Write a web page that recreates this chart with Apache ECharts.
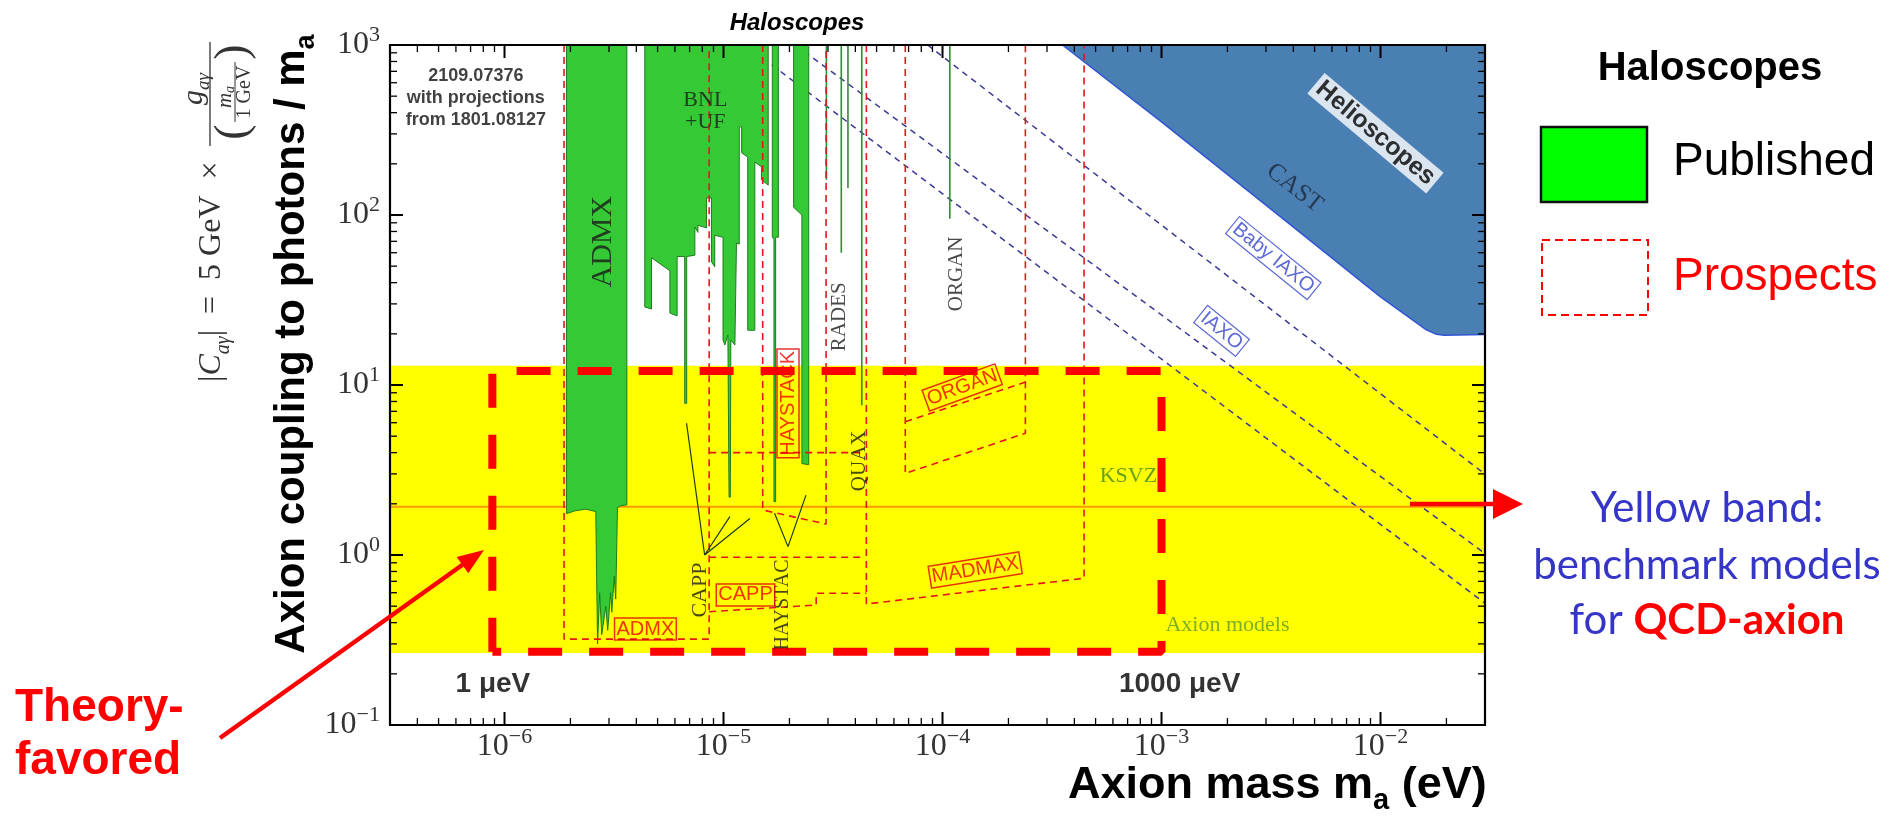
<!DOCTYPE html>
<html><head><meta charset="utf-8">
<script src="https://cdn.jsdelivr.net/npm/echarts@6/dist/echarts.min.js"></script>
<style>html,body{margin:0;padding:0;background:#fff}#c{width:1892px;height:816px}</style>
</head><body><div id="c"></div>
<script>
// ---------- axes ----------
const xRange = [3e-7, 3e-2];
const yRange = [0.1, 1000];
const xMajorTicks = [1e-6, 1e-5, 1e-4, 1e-3, 1e-2];
const xMinorTicks = [4e-7,5e-7,6e-7,7e-7,8e-7,9e-7,
  2e-6,3e-6,4e-6,5e-6,6e-6,7e-6,8e-6,9e-6,
  2e-5,3e-5,4e-5,5e-5,6e-5,7e-5,8e-5,9e-5,
  2e-4,3e-4,4e-4,5e-4,6e-4,7e-4,8e-4,9e-4,
  2e-3,3e-3,4e-3,5e-3,6e-3,7e-3,8e-3,9e-3,
  2e-2];
const yMajorTicks = [0.1, 1, 10, 100, 1000];
const yMinorTicks = [0.2,0.3,0.4,0.5,0.6,0.7,0.8,0.9,
  2,3,4,5,6,7,8,9, 20,30,40,50,60,70,80,90, 200,300,400,500,600,700,800,900];

// ---------- benchmark band / theory box ----------
const qcdBandCoupling = [0.265, 13];
const ksvzCoupling = 1.92;
const theoryBoxMass = [8.8e-7, 1e-3];
const theoryBoxCoupling = [0.27, 12.1];

// ---------- helioscopes ----------
const castMass = [3.53e-4, 1e-3, 3.32e-3, 1e-2, 1.62e-2, 1.8e-2, 1.95e-2, 3e-2];
const castCoupling = [1000, 353, 103, 33, 21.1, 19.9, 19.6, 19.8];
const babyIaxoMass = [8.55e-5, 3e-2];
const babyIaxoCoupling = [1000, 2.99];
const iaxoMass = [2.13e-5, 3e-2];
const iaxoCoupling = [1000, 1.02];
const iaxoPlusMass = [1.26e-5, 3e-2];
const iaxoPlusCoupling = [1000, 0.52];

// ---------- published haloscope limits (lower edge of excluded region) ----------
const admxPublished = [[1.92e-6,1000],[1.92e-6,1.75],[2.1e-6,1.82],[2.35e-6,1.86],[2.61e-6,1.8],[2.66e-6,0.30],[2.72e-6,0.6],[2.78e-6,0.34],[2.9e-6,0.5],[2.96e-6,0.36],[3.05e-6,0.6],[3.09e-6,0.46],[3.17e-6,0.75],[3.22e-6,0.55],[3.28e-6,1.9],[3.4e-6,1.95],[3.62e-6,1.97],[3.62e-6,1000]];
const bnlUfPublished = [[4.37e-6,1000],[4.37e-6,28.8],[4.69e-6,28],[4.69e-6,56],[5.69e-6,47],[5.69e-6,26.5],[6.14e-6,25.5],[6.14e-6,57],[6.65e-6,57],[6.65e-6,7.8],[6.79e-6,7.8],[6.79e-6,57],[7.4e-6,58],[7.4e-6,85],[7.64e-6,79],[7.64e-6,87],[8.36e-6,84],[8.36e-6,126],[8.81e-6,126],[8.81e-6,53],[9.12e-6,49.6],[9.12e-6,76],[9.95e-6,74],[9.95e-6,18.4],[1.014e-5,17.2],[1.047e-5,19.7],[1.06e-5,2.19],[1.074e-5,2.19],[1.08e-5,18.4],[1.127e-5,17.2],[1.146e-5,68.4],[1.18e-5,67.4],[1.18e-5,330],[1.21e-5,330],[1.21e-5,232],[1.29e-5,219],[1.29e-5,21],[1.39e-5,21],[1.39e-5,205],[1.49e-5,192],[1.49e-5,161],[1.6e-5,150],[1.6e-5,1000]];
const haystacPublishedA = [[1.67e-5,1000],[1.67e-5,74],[1.70e-5,72],[1.70e-5,2.06],[1.73e-5,2.06],[1.73e-5,74],[1.78e-5,74],[1.78e-5,1000]];
const haystacPublishedB = [[2.09e-5,1000],[2.09e-5,111],[2.28e-5,100],[2.28e-5,3.45],[2.45e-5,3.4],[2.45e-5,1000]];
const thinResultMass = [2.95e-5, 3.45e-5, 3.7e-5, 4.28e-5, 1.08e-4];
const thinResultCoupling = [161, 60, 144, 7.6, 95];

// ---------- prospects (red dashed) ----------
const admxProspect = [[1.87e-6,1000],[1.87e-6,0.32],[8.6e-6,0.32],[8.6e-6,1000]];
const cappProspectTop = [[8.6e-6,0.97],[4.4e-5,0.97]];
const cappProspectBottom = [[8.6e-6,0.464],[2.65e-5,0.508],[2.65e-5,0.596],[4.49e-5,0.596]];
const haystacProspectTop = [[8.6e-6,4.0],[4.4e-5,4.0]];
const haystackProspect = [[1.51e-5,1000],[1.51e-5,1.84],[2.94e-5,1.52],[2.94e-5,1000]];
const madmaxProspect = [[4.49e-5,1000],[4.49e-5,0.515],[4.43e-4,0.73],[4.43e-4,1000]];
const organProspect = [[6.76e-5,1000],[6.76e-5,3.02],[2.39e-4,5.2],[2.39e-4,1000]];
const organProspectUpper = [[6.76e-5,6.08],[2.39e-4,10.4]];

// ---------- label pointers ----------
const cappPointer = [[6.78e-6,5.96],[8.2e-6,1.0],[1.069e-5,1.68],[8.2e-6,1.0],[1.32e-5,1.64]];
const haystacPointer = [[1.71e-5,1.76],[1.97e-5,1.12],[2.38e-5,2.25]];

// ---------- in-plot text ----------
const serifLabels = ['ADMX','BNL\n+UF','RADES','ORGAN','QUAX','CAPP','HAYSTAC','CAST'];
const serifLabelMass = [2.82e-6, 8.26e-6, 3.38e-5, 1.16e-4, 4.19e-5, 7.8e-6, 1.87e-5, 4.05e-3];
const serifLabelCoupling = [69.7, 410, 25.2, 45, 3.58, 0.622, 0.508, 144];
const modelLabels = ['KSVZ','Axion models'];
const modelLabelMass = [7.06e-4, 2.0e-3];
const modelLabelCoupling = [2.89, 0.388];
const prospectLabels = ['ADMX','CAPP','HAYSTACK','ORGAN','MADMAX'];
const prospectLabelMass = [4.4e-6, 1.26e-5, 1.97e-5, 1.23e-4, 1.41e-4];
const prospectLabelCoupling = [0.367, 0.582, 7.8, 9.68, 0.816];
const helioLabels = ['Baby IAXO','IAXO'];
const helioLabelMass = [3.24e-3, 1.88e-3];
const helioLabelCoupling = [55.8, 20.8];
const helioscopeTitleAt = [9.48e-3, 303];
const referenceText = '2109.07376\nwith projections\nfrom 1801.08127';
const referenceAt = [7.4e-7, 490];
const energyLabels = ['1 \u03bceV', '1000 \u03bceV'];
const energyLabelMass = [8.85e-7, 1.21e-3];
const energyLabelCoupling = [0.174, 0.174];

// ================= build =================
const zip = (a, b) => a.map((v, i) => [v, b[i]]);
const RED = '#ff0000', DRED = '#e8141c', GREEN = '#35c935', DGREEN = '#1d7d1d';
const SERIF = '"Liberation Serif", "DejaVu Serif", serif';
const SANS = '"Liberation Sans", Arial, sans-serif';

function polygonSeries(pts, fill, stroke, z) {
  return {
    type: 'custom', coordinateSystem: 'cartesian2d', data: pts, z: z, silent: true, animation: false, clip: true,
    renderItem: function (params, api) {
      if (params.dataIndexInside !== 0) return null;
      const n = params.dataInsideLength;
      const points = [];
      for (let i = 0; i < n; i++) points.push(api.coord([api.value(0, i), api.value(1, i)]));
      return { type: 'polygon', shape: { points: points }, style: { fill: fill, stroke: stroke, lineWidth: stroke ? 1 : 0 } };
    }
  };
}
function lineSeries(pts, color, width, type, z) {
  return { type: 'line', data: pts, symbol: 'none', z: z, silent: true, animation: false, clip: true,
    lineStyle: { color: color, width: width, type: type } };
}
function tickSeries(vals, isX, len, width) {
  const data = vals.map(v => isX ? [v, yRange[0]] : [xRange[0], v]);
  return {
    type: 'custom', coordinateSystem: 'cartesian2d', data: data, z: 20, silent: true, animation: false,
    renderItem: function (params, api) {
      const cs = params.coordSys;
      const p = api.coord([api.value(0), api.value(1)]);
      const st = { stroke: '#000', lineWidth: width };
      if (isX) {
        return { type: 'group', children: [
          { type: 'line', shape: { x1: p[0], y1: cs.y + cs.height, x2: p[0], y2: cs.y + cs.height - len }, style: st },
          { type: 'line', shape: { x1: p[0], y1: cs.y, x2: p[0], y2: cs.y + len }, style: st }
        ]};
      }
      return { type: 'group', children: [
        { type: 'line', shape: { x1: cs.x, y1: p[1], x2: cs.x + len, y2: p[1] }, style: st },
        { type: 'line', shape: { x1: cs.x + cs.width, y1: p[1], x2: cs.x + cs.width - len, y2: p[1] }, style: st }
      ]};
    }
  };
}

const series = [];
// yellow band
series.push(polygonSeries([[xRange[0], qcdBandCoupling[0]], [xRange[1], qcdBandCoupling[0]], [xRange[1], qcdBandCoupling[1]], [xRange[0], qcdBandCoupling[1]]], '#ffff00', null, 1));
// CAST
const castPts = zip(castMass, castCoupling); castPts.push([xRange[1], yRange[1]]);
series.push(polygonSeries(castPts, '#4a7fb4', null, 2));
series.push(lineSeries(zip(castMass, castCoupling), '#2f55d4', 1.5, 'solid', 3));
// IAXO projections
[[babyIaxoMass, babyIaxoCoupling], [iaxoMass, iaxoCoupling], [iaxoPlusMass, iaxoPlusCoupling]].forEach(d => {
  series.push(lineSeries(zip(d[0], d[1]), '#3a3a96', 1.5, [6, 5], 3));
});
// KSVZ
series.push(lineSeries([[xRange[0], ksvzCoupling], [xRange[1], ksvzCoupling]], '#ff9900', 2, 'solid', 3));
// published
[admxPublished, bnlUfPublished, haystacPublishedA, haystacPublishedB].forEach(p => series.push(polygonSeries(p, GREEN, DGREEN, 4)));
thinResultMass.forEach((m, i) => series.push(lineSeries([[m, yRange[1]], [m, thinResultCoupling[i]]], '#2f8f2f', 1.6, 'solid', 4)));
// prospects
[admxProspect, cappProspectTop, cappProspectBottom, haystacProspectTop, haystackProspect, madmaxProspect, organProspect, organProspectUpper]
  .forEach(p => series.push(lineSeries(p, DRED, 1.6, [7, 5], 6)));
// pointers
series.push(lineSeries(cappPointer, '#1a3a1a', 1.2, 'solid', 6));
series.push(lineSeries(haystacPointer, '#1a3a1a', 1.2, 'solid', 6));
// theory favoured box
series.push(lineSeries([[theoryBoxMass[0], theoryBoxCoupling[0]], [theoryBoxMass[0], theoryBoxCoupling[1]], [theoryBoxMass[1], theoryBoxCoupling[1]], [theoryBoxMass[1], theoryBoxCoupling[0]], [theoryBoxMass[0], theoryBoxCoupling[0]]], RED, 8, [34, 27], 7));

// labels
const serifRot = [90, 0, 90, 90, 90, 90, 90, -38];
const serifSize = [30, 22, 21, 21, 21, 22, 20, 25];
const labelItems = [];
serifLabels.forEach((t, i) => labelItems.push({ value: [serifLabelMass[i], serifLabelCoupling[i]],
  label: { formatter: t, rotate: serifRot[i], fontSize: serifSize[i], fontFamily: SERIF, color: i === 7 ? '#1d2838' : '#1a1a1a', lineHeight: serifSize[i] } }));
modelLabels.forEach((t, i) => labelItems.push({ value: [modelLabelMass[i], modelLabelCoupling[i]],
  label: { formatter: t, fontSize: 22, fontFamily: SERIF, color: i === 0 ? '#3f8a22' : '#5c9a2c' } }));
const prospectRot = [0, 0, 90, 20, 9];
prospectLabels.forEach((t, i) => labelItems.push({ value: [prospectLabelMass[i], prospectLabelCoupling[i]],
  label: { formatter: t, rotate: prospectRot[i], fontSize: 20, fontFamily: SANS, color: '#f00000', borderColor: '#e00000', borderWidth: 1.5, padding: [2, 2, 0, 2] } }));
helioLabels.forEach((t, i) => labelItems.push({ value: [helioLabelMass[i], helioLabelCoupling[i]],
  label: { formatter: t, rotate: -39, fontSize: 20, fontFamily: SANS, color: '#3344cc', borderColor: '#3344cc', borderWidth: 1.2, padding: [2, 3, 0, 3] } }));
labelItems.push({ value: helioscopeTitleAt, label: { formatter: 'Helioscopes', rotate: -40, fontSize: 25, fontWeight: 'bold', fontFamily: SANS, color: '#000', backgroundColor: '#fff', padding: [2, 4, 0, 4] } });
labelItems.push({ value: referenceAt, label: { formatter: referenceText, fontSize: 18, fontWeight: 'bold', fontFamily: SANS, color: '#111', lineHeight: 22, align: 'center' } });
energyLabels.forEach((t, i) => labelItems.push({ value: [energyLabelMass[i], energyLabelCoupling[i]],
  label: { formatter: t, fontSize: 28, fontWeight: 'bold', fontFamily: SANS, color: '#000' } }));
series.push({ type: 'scatter', data: labelItems, symbolSize: 1, itemStyle: { color: 'rgba(0,0,0,0)' }, z: 9, silent: true, animation: false,
  label: { show: true, position: 'inside', align: 'center', verticalAlign: 'middle' } });

// frame + ticks
series.push({ type: 'custom', coordinateSystem: 'cartesian2d', data: [[xRange[0], yRange[0]]], z: 21, silent: true, animation: false,
  renderItem: function (params) { const cs = params.coordSys;
    return { type: 'rect', shape: { x: cs.x, y: cs.y, width: cs.width, height: cs.height }, style: { fill: null, stroke: '#000', lineWidth: 2.2 } }; } });
series.push(tickSeries(xMajorTicks, true, 13, 2));
series.push(tickSeries(xMinorTicks, true, 7, 1.3));
series.push(tickSeries(yMajorTicks, false, 13, 2));
series.push(tickSeries(yMinorTicks, false, 7, 1.3));

function powLabel(v) {
  const l = Math.log10(v), e = Math.round(l);
  if (Math.abs(l - e) > 0.01) return '';
  return '{b|10}{s|' + (e < 0 ? '\u2212' + (-e) : e) + '}';
}
const tickRich = {
  b: { fontSize: 32, fontFamily: SERIF, lineHeight: 40, color: '#333' },
  s: { fontSize: 22, fontFamily: SERIF, lineHeight: 20, padding: [0, 0, 20, 0], color: '#333' }
};

const graphics = [
  { type: 'text', x: 797, y: 23, style: { text: 'Haloscopes', fontSize: 24, fontWeight: 'bold', fontStyle: 'italic', fontFamily: SANS, fill: '#000', align: 'center', verticalAlign: 'middle' } },
  { type: 'text', x: 292, y: 344, rotation: Math.PI / 2, style: { text: '{t|Axion coupling to photons / m}{u|a}', align: 'center', verticalAlign: 'middle',
      rich: { t: { fontSize: 42, fontWeight: 'bold', fontFamily: SANS, fill: '#000', lineHeight: 58 }, u: { fontSize: 27, fontWeight: 'bold', fontFamily: SANS, fill: '#000', lineHeight: 28, padding: [30, 0, 0, 0] } } } },
  { type: 'group', x: 212, y: 382, rotation: Math.PI / 2, children: [
      { type: 'text', x: 0, y: 0, style: { text: '{n||}{i|C}{s|a\u03b3}{n||  =  5 GeV  \u00d7}', align: 'left', verticalAlign: 'middle',
          rich: { n: { fontSize: 32, fontFamily: SERIF, fill: '#333', lineHeight: 46 }, i: { fontSize: 32, fontStyle: 'italic', fontFamily: SERIF, fill: '#333', lineHeight: 46 }, s: { fontSize: 20, fontStyle: 'italic', fontFamily: SERIF, fill: '#333', lineHeight: 20, padding: [24, 0, 0, 0] } } } },
      { type: 'text', x: 293, y: -18, style: { text: '{i|g}{s|a\u03b3}', align: 'center', verticalAlign: 'middle',
          rich: { i: { fontSize: 30, fontStyle: 'italic', fontFamily: SERIF, fill: '#333', lineHeight: 40 }, s: { fontSize: 19, fontStyle: 'italic', fontFamily: SERIF, fill: '#333', lineHeight: 18, padding: [20, 0, 0, 0] } } } },
      { type: 'line', shape: { x1: 236, y1: -2, x2: 340, y2: -2 }, style: { stroke: '#333', lineWidth: 1.3 } },
      { type: 'text', x: 250, y: 22, style: { text: '(', fontSize: 46, fontFamily: SERIF, fill: '#333', align: 'center', verticalAlign: 'middle' } },
      { type: 'text', x: 330, y: 22, style: { text: ')', fontSize: 46, fontFamily: SERIF, fill: '#333', align: 'center', verticalAlign: 'middle' } },
      { type: 'text', x: 285, y: 13, style: { text: '{i|m}{s|a}', align: 'center', verticalAlign: 'middle',
          rich: { i: { fontSize: 21, fontStyle: 'italic', fontFamily: SERIF, fill: '#333', lineHeight: 24 }, s: { fontSize: 14, fontStyle: 'italic', fontFamily: SERIF, fill: '#333', lineHeight: 14, padding: [10, 0, 0, 0] } } } },
      { type: 'line', shape: { x1: 260, y1: 23, x2: 320, y2: 23 }, style: { stroke: '#333', lineWidth: 1 } },
      { type: 'text', x: 290, y: 33, style: { text: '1 GeV', fontSize: 20, fontFamily: SERIF, fill: '#333', align: 'center', verticalAlign: 'middle' } }
  ] },
  { type: 'text', x: 1068, y: 786, style: { text: '{t|Axion mass m}{u|a}{t| (eV)}', align: 'left', verticalAlign: 'middle',
      rich: { t: { fontSize: 45, fontWeight: 'bold', fontFamily: SANS, fill: '#000', lineHeight: 58 }, u: { fontSize: 29, fontWeight: 'bold', fontFamily: SANS, fill: '#000', lineHeight: 28, padding: [30, 0, 0, 0] } } } },
  // legend
  { type: 'text', x: 1710, y: 69, style: { text: 'Haloscopes', fontSize: 40, fontWeight: 'bold', fontFamily: SANS, fill: '#000', align: 'center', verticalAlign: 'middle' } },
  { type: 'rect', shape: { x: 1541, y: 127, width: 106, height: 75 }, style: { fill: '#00ff00', stroke: '#111', lineWidth: 2.5 } },
  { type: 'text', x: 1673, y: 162, style: { text: 'Published', fontSize: 46, fontFamily: SANS, fill: '#000', align: 'left', verticalAlign: 'middle' } },
  { type: 'rect', shape: { x: 1542, y: 240, width: 106, height: 75 }, style: { fill: null, stroke: '#ff0000', lineWidth: 2, lineDash: [8, 5] } },
  { type: 'text', x: 1673, y: 277, style: { text: 'Prospects', fontSize: 46, fontFamily: SANS, fill: '#ff0000', align: 'left', verticalAlign: 'middle' } },
  // yellow band note
  { type: 'text', x: 1707, y: 508, style: { text: 'Yellow band:', fontSize: 42, fontFamily: 'Lato, "Open Sans", sans-serif', fill: '#3535c8', align: 'center', verticalAlign: 'middle' } },
  { type: 'text', x: 1707, y: 565, style: { text: 'benchmark models', fontSize: 42, fontFamily: 'Lato, "Open Sans", sans-serif', fill: '#3535c8', align: 'center', verticalAlign: 'middle' } },
  { type: 'text', x: 1707, y: 620, style: { text: '{b|for }{r|QCD-axion}', align: 'center', verticalAlign: 'middle',
      rich: { b: { fontSize: 42, fontFamily: 'Lato, "Open Sans", sans-serif', fill: '#3535c8' }, r: { fontSize: 42, fontWeight: 'bold', fontFamily: 'Lato, "Open Sans", sans-serif', fill: '#ff0000' } } } },
  { type: 'line', z: 100, shape: { x1: 1410, y1: 504, x2: 1496, y2: 504 }, style: { stroke: '#ff0000', lineWidth: 4.5 } },
  { type: 'polygon', z: 100, shape: { points: [[1493, 489], [1523, 504], [1493, 519]] }, style: { fill: '#ff0000' } },
  // theory favoured
  { type: 'text', x: 15, y: 708, style: { text: 'Theory-', fontSize: 46, fontWeight: 'bold', fontFamily: SANS, fill: '#ff0000', align: 'left', verticalAlign: 'middle' } },
  { type: 'text', x: 15, y: 761, style: { text: 'favored', fontSize: 46, fontWeight: 'bold', fontFamily: SANS, fill: '#ff0000', align: 'left', verticalAlign: 'middle' } },
  { type: 'line', z: 100, shape: { x1: 220, y1: 738, x2: 465, y2: 563 }, style: { stroke: '#ff0000', lineWidth: 4.5 } },
  { type: 'polygon', z: 100, shape: { points: [[484, 550], [468.3, 573.2], [456.7, 557.0]] }, style: { fill: '#ff0000' } }
];

const option = {
  backgroundColor: '#fff',
  animation: false,
  grid: { left: 390, top: 45, width: 1095, height: 680, containLabel: false, outerBoundsMode: 'none' },
  xAxis: { type: 'log', logBase: 10, min: xRange[0], max: xRange[1],
    axisLine: { show: false }, axisTick: { show: false }, splitLine: { show: false }, minorTick: { show: false },
    axisLabel: { formatter: powLabel, rich: tickRich, margin: 2, showMinLabel: false, showMaxLabel: false } },
  yAxis: { type: 'log', logBase: 10, min: yRange[0], max: yRange[1],
    axisLine: { show: false }, axisTick: { show: false }, splitLine: { show: false }, minorTick: { show: false },
    axisLabel: { formatter: powLabel, rich: tickRich, margin: 10 } },
  series: series,
  graphic: { elements: graphics }
};
const chart = echarts.init(document.getElementById('c'), null, { renderer: 'canvas' });
chart.setOption(option);
</script></body></html>
